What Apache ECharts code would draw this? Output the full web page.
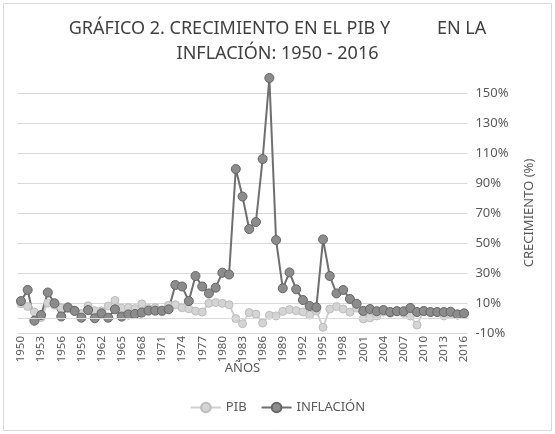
<!DOCTYPE html>
<html lang="es">
<head>
<meta charset="UTF-8">
<title>Gráfico 2</title>
<script src="https://cdn.jsdelivr.net/npm/echarts@6/dist/echarts.min.js"></script>
<style>
  body { margin: 0; background: #fff; }
  #main { width: 555px; height: 434px; }
</style>
</head>
<body>
<div id="main"></div>
<script>
// años (eje x)
var years = [
  '1950','1951','1952','1953','1954','1955','1956','1957','1958','1959',
  '1960','1961','1962','1963','1964','1965','1966','1967','1968','1969',
  '1970','1971','1972','1973','1974','1975','1976','1977','1978','1979',
  '1980','1981','1982','1983','1984','1985','1986','1987','1988','1989',
  '1990','1991','1992','1993','1994','1995','1996','1997','1998','1999',
  '2000','2001','2002','2003','2004','2005','2006','2007','2008','2009',
  '2010','2011','2012','2013','2014','2015','2016'
];
// crecimiento del PIB (%)
var pib = [
  9.5, 7.7, 4.0, 0.3, 10.0, 8.5, 6.8, 7.6, 5.3, 3.0,
  8.1, 4.9, 4.7, 8.0, 11.7, 6.5, 6.9, 6.3, 9.4, 6.3,
  6.9, 4.2, 8.5, 8.8, 6.8, 6.1, 4.6, 4.0, 9.8, 10.3,
  9.8, 8.8, -0.4, -3.8, 3.6, 2.6, -3.4, 1.8, 1.4, 4.4,
  5.6, 4.9, 4.0, 2.0, 4.6, -6.2, 6.0, 7.6, 6.0, 3.9,
  6.6, -0.6, 0.1, 1.4, 4.0, 3.2, 5.0, 3.1, 1.4, -4.7,
  5.1, 4.0, 4.0, 1.4, 2.3, 2.6, 2.9
];
// inflación (%)
var inflacion = [
  11.3, 18.7, -1.8, 2.0, 17.0, 9.8, 1.0, 6.9, 4.7, 0.2,
  5.3, -0.2, 3.1, 0.2, 5.8, 0.9, 2.4, 2.7, 3.6, 4.9,
  4.9, 4.9, 5.8, 22.0, 21.0, 11.3, 28.0, 21.0, 16.4, 20.2,
  30.2, 29.0, 99.3, 81.0, 59.3, 64.0, 106.0, 160.0, 52.0, 19.8,
  30.4, 19.1, 12.0, 8.0, 7.1, 52.4, 28.0, 16.4, 18.7, 12.7,
  9.5, 4.7, 6.0, 4.5, 5.3, 4.0, 4.5, 4.5, 6.7, 4.0,
  4.6, 4.0, 4.0, 4.0, 4.2, 2.4, 3.1
];
// etiquetas del eje y
var yTicks = [-10, 10, 30, 50, 70, 90, 110, 130, 150];

var font = 'Noto Sans';
var myChart = echarts.init(document.getElementById('main'));

var option = {
  animation: false,
  backgroundColor: '#fff',
  textStyle: { fontFamily: font },
  title: {
    text: 'GRÁFICO 2. CRECIMIENTO EN EL PIB Y          EN LA\nINFLACIÓN: 1950 - 2016',
    left: 'center',
    top: 11,
    textStyle: { fontSize: 18, fontWeight: 'normal', color: '#404040', lineHeight: 25, fontFamily: font }
  },
  // marco del gráfico
  graphic: [{
    type: 'rect',
    shape: { x: 3.5, y: 3.5, width: 548, height: 427 },
    style: { fill: 'none', stroke: '#d9d9d9', lineWidth: 1 },
    silent: true
  }],
  legend: {
    bottom: 15,
    left: 'center',
    itemWidth: 30,
    itemHeight: 12,
    itemGap: 14,
    textStyle: { fontSize: 13, color: '#595959', fontFamily: font },
    data: ['PIB', 'INFLACIÓN']
  },
  grid: { left: 17.6, right: 87.6, top: 93, bottom: 101 },
  xAxis: {
    type: 'category',
    data: years,
    name: 'AÑOS',
    nameLocation: 'middle',
    nameGap: 29,
    nameMoveOverlap: false,
    nameTextStyle: { fontSize: 13, color: '#595959' },
    axisLine: { show: false },
    axisTick: { show: false },
    axisLabel: { interval: 2, rotate: 90, margin: 3, fontSize: 11.5, color: '#595959' }
  },
  yAxis: {
    type: 'value',
    position: 'right',
    min: -10,
    max: 150,
    interval: 10,
    name: 'CRECIMIENTO (%)',
    nameLocation: 'middle',
    nameRotate: 90,
    nameGap: 55,
    nameTextStyle: { fontSize: 13, color: '#595959' },
    axisLine: { show: false },
    axisTick: { show: false },
    axisLabel: {
      margin: 8,
      fontSize: 13,
      color: '#595959',
      formatter: function (v) {
        return yTicks.indexOf(v) >= 0 ? v + '%' : '';
      }
    },
    splitLine: { lineStyle: { color: ['#d9d9d9', 'rgba(0,0,0,0)'], width: 1 } }
  },
  series: [
    {
      name: 'PIB',
      type: 'line',
      data: pib,
      clip: false,
      showAllSymbol: true,
      symbol: 'circle',
      symbolSize: 8,
      lineStyle: { color: '#cfcfcf', width: 2 },
      itemStyle: { color: '#d4d4d4', borderColor: '#bdbdbd', borderWidth: 1 },
      markLine: {
        silent: true,
        symbol: 'none',
        label: { show: false },
        lineStyle: { color: '#d9d9d9', type: 'solid', width: 1 },
        data: [{ yAxis: 0 }]
      }
    },
    {
      name: 'INFLACIÓN',
      type: 'line',
      data: inflacion,
      clip: false,
      showAllSymbol: true,
      symbol: 'circle',
      symbolSize: 9,
      lineStyle: { color: '#6f6f6f', width: 2 },
      itemStyle: { color: '#8c8c8c', borderColor: '#666666', borderWidth: 1 }
    }
  ]
};
myChart.setOption(option);
</script>
</body>
</html>
